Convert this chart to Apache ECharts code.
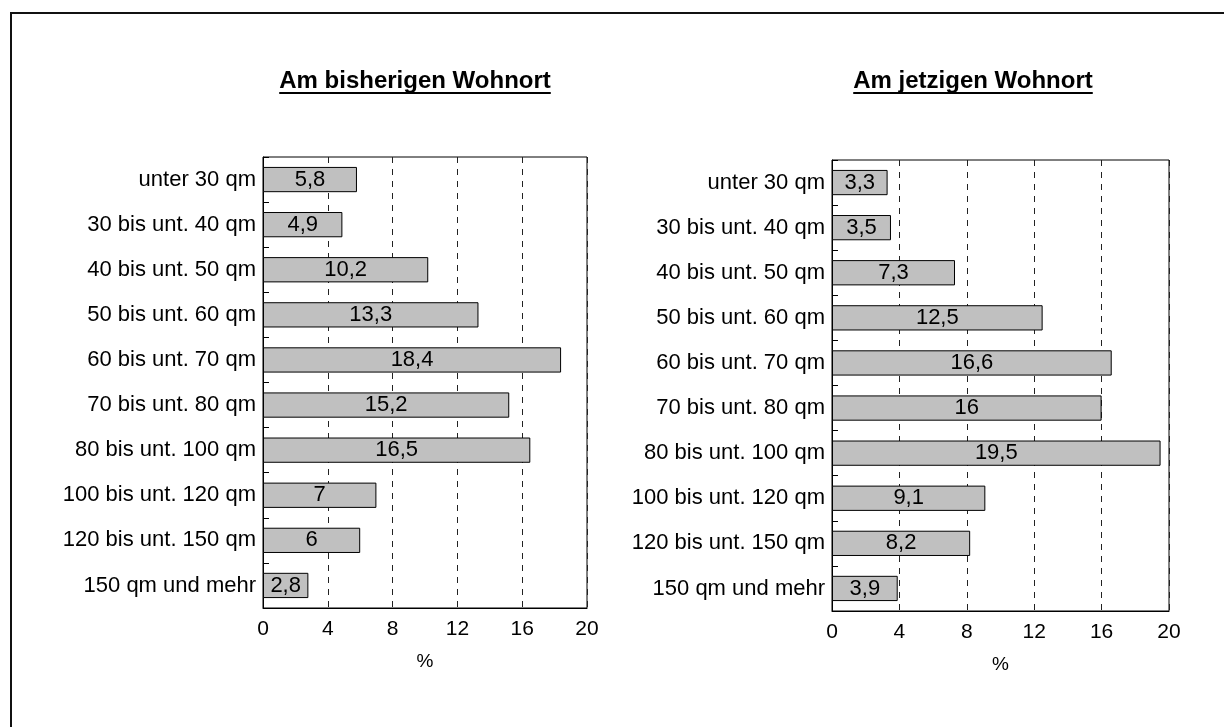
<!DOCTYPE html>
<html>
<head>
<meta charset="utf-8">
<script src="https://cdn.jsdelivr.net/npm/echarts@6/dist/echarts.min.js"></script>
<style>
  html, body { margin: 0; padding: 0; background: #fff; }
  #chart { width: 1224px; height: 727px; }
</style>
</head>
<body>
<div id="chart"></div>
<script>
const categories = [
  'unter 30 qm', '30 bis unt. 40 qm', '40 bis unt. 50 qm', '50 bis unt. 60 qm',
  '60 bis unt. 70 qm', '70 bis unt. 80 qm', '80 bis unt. 100 qm',
  '100 bis unt. 120 qm', '120 bis unt. 150 qm', '150 qm und mehr'
];
const valuesBisher = [5.8, 4.9, 10.2, 13.3, 18.4, 15.2, 16.5, 7, 6, 2.8];
const valuesJetzt = [3.3, 3.5, 7.3, 12.5, 16.6, 16, 19.5, 9.1, 8.2, 3.9];
const titles = ['Am bisherigen Wohnort', 'Am jetzigen Wohnort'];
const axisName = '%';
const xMin = 0, xMax = 20, xInterval = 4;

const FONT = "'Liberation Sans', Arial, sans-serif";
const chart = echarts.init(document.getElementById('chart'));

function fmt(v) { return String(v).replace('.', ','); }

function measure(text, font) {
  const c = document.createElement('canvas').getContext('2d');
  c.font = font;
  return c.measureText(text).width;
}

const grids = [
  { left: 263, right: 1224 - 587, top: 157, bottom: 727 - 608, show: true, borderColor: '#000', borderWidth: 1 },
  { left: 832, right: 1224 - 1169, top: 160, bottom: 727 - 611, show: true, borderColor: '#000', borderWidth: 1 }
];

function xAxisFor(i) {
  return {
    gridIndex: i, type: 'value', min: xMin, max: xMax, interval: xInterval,
    name: axisName, nameLocation: 'middle', nameGap: 44,
    nameTextStyle: { color: '#000', fontSize: 19, fontFamily: FONT },
    axisLine: { show: true, lineStyle: { color: '#000', width: 1 } },
    axisTick: { show: false },
    axisLabel: { color: '#000', fontSize: 21, fontFamily: FONT, margin: 11 },
    splitLine: { show: true, lineStyle: { color: '#222', type: [6, 6], width: 1 } }
  };
}
function yAxisFor(i) {
  return {
    gridIndex: i, type: 'category', data: categories, inverse: true,
    axisLine: { show: true, lineStyle: { color: '#000', width: 1 } },
    axisTick: { show: true, inside: true, length: 6, lineStyle: { color: '#000' } },
    axisLabel: { color: '#000', fontSize: 22, fontFamily: FONT, margin: 7 },
    splitLine: { show: false }
  };
}
function seriesFor(i, data) {
  return {
    type: 'bar', xAxisIndex: i, yAxisIndex: i, data: data,
    barCategoryGap: '44%',
    itemStyle: { color: '#c0c0c0', borderColor: '#000', borderWidth: 1 },
    label: {
      show: true, position: 'inside', color: '#000', fontSize: 22, fontFamily: FONT,
      formatter: p => fmt(p.value)
    },
    silent: true
  };
}

const titleFont = "bold 24px 'Liberation Sans', Arial, sans-serif";
const titleCenters = [415, 973];
const graphics = [
  { type: 'rect', shape: { x: 11, y: 13, width: 1400, height: 900 },
    style: { fill: 'none', stroke: '#111', lineWidth: 2 }, silent: true }
];
titles.forEach((t, i) => {
  const w = measure(t, titleFont);
  graphics.push({
    type: 'text', x: titleCenters[i], y: 81,
    style: { text: t, font: titleFont, fill: '#000', align: 'center', verticalAlign: 'middle' },
    silent: true
  });
  graphics.push({
    type: 'rect', shape: { x: titleCenters[i] - w / 2, y: 92, width: w, height: 2 },
    style: { fill: '#000' }, silent: true
  });
});

chart.setOption({
  animation: false,
  backgroundColor: '#fff',
  grid: grids,
  xAxis: [xAxisFor(0), xAxisFor(1)],
  yAxis: [yAxisFor(0), yAxisFor(1)],
  series: [seriesFor(0, valuesBisher), seriesFor(1, valuesJetzt)],
  graphic: graphics
});
</script>
</body>
</html>
